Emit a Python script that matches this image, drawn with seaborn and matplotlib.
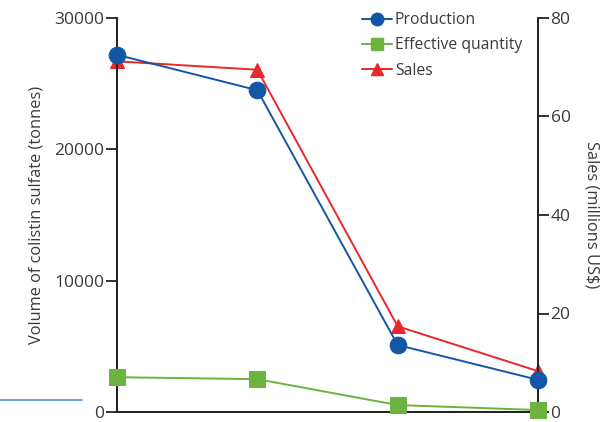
import numpy as np
import pandas as pd
import matplotlib
matplotlib.use("Agg")
import matplotlib.pyplot as plt
import seaborn as sns
from matplotlib.lines import Line2D

# -----------------------------------------------------------------------------
# Data
# -----------------------------------------------------------------------------
periods            = [0, 1, 2, 3]
production         = [27200, 24500, 5100, 2450]
effective_quantity = [2650, 2500, 530, 150]
sales              = [71.2, 69.5, 17.4, 8.3]

series_labels = ["Production", "Effective quantity", "Sales"]
left_ticks    = [0, 10000, 20000, 30000]
right_ticks   = [0, 20, 40, 60, 80]

# -----------------------------------------------------------------------------
# Style
# -----------------------------------------------------------------------------
BLUE  = "#1456a6"
GREEN = "#6cb33f"
RED   = "#e8282b"
TEXT  = "#3a3a3a"
FS    = 12.5

sns.set_style("white")
plt.rcParams["font.family"] = ["Open Sans", "DejaVu Sans"]

fig = plt.figure(figsize=(6.02, 4.22), dpi=100)
ax = fig.add_axes([117 / 602, 1 - 412 / 422, (538 - 117) / 602, (412 - 18) / 422])
ax2 = ax.twinx()

df = pd.DataFrame({
    "period": periods,
    "production": production,
    "effective": effective_quantity,
    "sales": sales,
})

sns.lineplot(data=df, x="period", y="production", ax=ax, color=BLUE, lw=1.4,
             marker="o", markersize=12, markeredgecolor=BLUE, clip_on=False, zorder=3)
sns.lineplot(data=df, x="period", y="effective", ax=ax, color=GREEN, lw=1.4,
             marker="s", markersize=11, markeredgecolor=GREEN, clip_on=False, zorder=3)
sns.lineplot(data=df, x="period", y="sales", ax=ax2, color=RED, lw=1.4,
             marker="^", markersize=10, markeredgecolor=RED, clip_on=False, zorder=2)

ax.set_xlim(0, 3)
ax.set_ylim(0, 30000)
ax2.set_ylim(0, 80)
ax.set_xticks(periods)
ax.set_xticklabels([])
ax.set_yticks(left_ticks)
ax.set_yticklabels([str(t) for t in left_ticks])
ax2.set_yticks(right_ticks)
ax2.set_yticklabels([str(t) for t in right_ticks])
ax.set_xlabel("")

for a in (ax, ax2):
    a.spines["top"].set_visible(False)
    for s in ("left", "right", "bottom"):
        a.spines[s].set_color("#222222")
        a.spines[s].set_linewidth(1.3)
    a.tick_params(axis="both", direction="out", length=8, width=1.3, color="#222222",
                  labelsize=FS, labelcolor=TEXT, pad=1)
    a.grid(False)

ax.set_zorder(ax2.get_zorder() + 1)
ax.patch.set_visible(False)

ax.set_ylabel("Volume of colistin sulfate (tonnes)", fontsize=11.8, color=TEXT, labelpad=7)
ax2.set_ylabel("Sales (millions US$)", fontsize=11.8, color=TEXT, rotation=270, labelpad=21)

handles = [
    Line2D([], [], color=BLUE, marker="o", markersize=9, lw=1.4),
    Line2D([], [], color=GREEN, marker="s", markersize=8, lw=1.4),
    Line2D([], [], color=RED, marker="^", markersize=9, lw=1.4),
]
leg = ax.legend(handles, series_labels, loc="upper left",
                bbox_to_anchor=((362 - 117) / 421, 1 + 6 / 394),
                frameon=False, fontsize=11.3, handlelength=1.9, handletextpad=0.2,
                labelspacing=0.6, borderaxespad=0, borderpad=0)
for t in leg.get_texts():
    t.set_color(TEXT)

# stray rule at lower left of the source image
fig.add_artist(Line2D([0, 82 / 602], [1 - 400 / 422] * 2, transform=fig.transFigure,
                      color="#4a8fd8", lw=1.2))

fig.savefig("out.png", dpi=100)
